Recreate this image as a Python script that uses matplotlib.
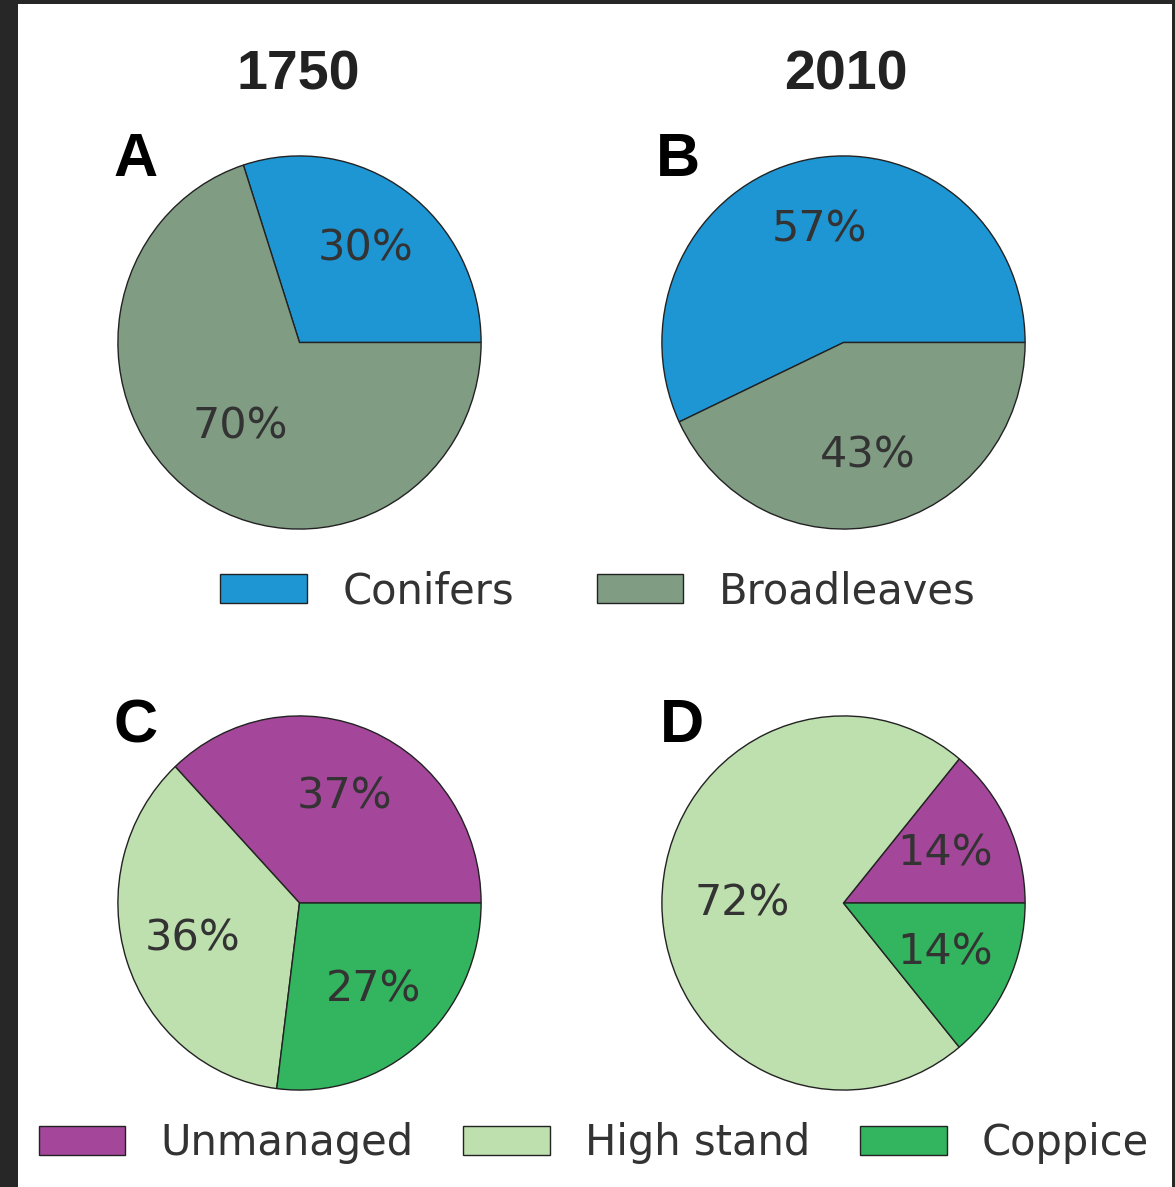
import matplotlib
matplotlib.use("Agg")
import matplotlib.pyplot as plt
from matplotlib.patches import Patch, Rectangle

# data
years = ["1750", "2010"]
species = ["Conifers", "Broadleaves"]
species_1750 = [30, 70]
species_2010 = [57, 43]
management = ["Unmanaged", "High stand", "Coppice"]
management_1750 = [37, 36, 27]
management_2010 = [14, 72, 14]
panel_letters = ["A", "B", "C", "D"]

species_colors = ["#1e96d4", "#809d84"]
management_colors = ["#a4479a", "#bedfae", "#33b45f"]

W, H = 1175, 1187
fig = plt.figure(figsize=(W / 100, H / 100), dpi=100)
fig.patch.set_facecolor("#272727")
# white page inside the dark frame
fig.patches.append(Rectangle((18 / W, 0), (1172 - 18) / W, 1 - 4 / H,
                             transform=fig.transFigure, facecolor="white",
                             edgecolor="none", zorder=-1))


def px_axes(x0, x1, y0, y1):
    # axes box given in pixel coords of the reference (y from top)
    return fig.add_axes([x0 / W, 1 - y1 / H, (x1 - x0) / W, (y1 - y0) / H])


def draw_pie(ax, values, colors):
    wedges, texts, autotexts = ax.pie(
        values, colors=colors, startangle=0, counterclock=True,
        autopct=lambda p: f"{p:.0f}%", pctdistance=0.62,
        wedgeprops=dict(edgecolor="#222222", linewidth=1.0),
        textprops=dict(fontsize=31, color="#333333", family="DejaVu Sans"))
    # big wedges have their labels a bit closer to the centre
    for v, t in zip(values, autotexts):
        if v >= 60:
            x, y = t.get_position()
            t.set_position((x * 0.9, y * 0.9))
    ax.set_aspect("auto")
    ax.set_xlim(-1.005, 1.005)
    ax.set_ylim(-1.005, 1.005)
    return wedges


axA = px_axes(117, 482, 155, 530)
axB = px_axes(661, 1026, 155, 530)
axC = px_axes(117, 482, 715, 1091)
axD = px_axes(661, 1026, 715, 1091)

draw_pie(axA, species_1750, species_colors)
draw_pie(axB, species_2010, species_colors)
draw_pie(axC, management_1750, management_colors)
draw_pie(axD, management_2010, management_colors)

# column titles
for x, yr in zip([298, 846], years):
    fig.text(x / W, 1 - 76 / H, yr, ha="center", va="center", fontsize=40,
             fontweight="bold", family="Liberation Sans", color="#222222")

# panel letters
for (x, y), lt in zip([(136, 160), (678, 160), (136, 727), (682, 727)], panel_letters):
    fig.text(x / W, 1 - y / H, lt, ha="center", va="center", fontsize=44,
             fontweight="bold", family=["Liberation Sans Narrow", "Liberation Sans"],
             color="black")

# legends
leg_kw = dict(loc="center", frameon=False, fontsize=30, handlelength=2.07,
              handleheight=0.7, handletextpad=0.85,
              borderpad=0, labelcolor="#333333")
h1 = [Patch(facecolor=c, edgecolor="#222222", linewidth=1.0) for c in species_colors]
fig.legend(h1, species, ncol=2, columnspacing=2.0,
           bbox_to_anchor=(598 / W, 1 - 591 / H), **leg_kw)
h2 = [Patch(facecolor=c, edgecolor="#222222", linewidth=1.0) for c in management_colors]
fig.legend(h2, management, ncol=3, columnspacing=1.2,
           bbox_to_anchor=(594 / W, 1 - 1143 / H), **leg_kw)

fig.savefig("out.png", dpi=100, facecolor=fig.get_facecolor())
